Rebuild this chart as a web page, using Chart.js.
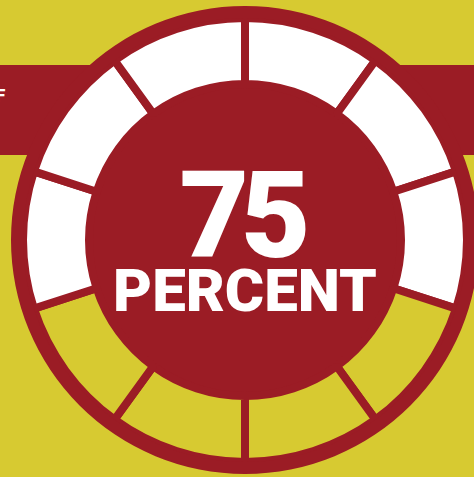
<!DOCTYPE html>
<html>
<head>
<meta charset="utf-8">
<script src="https://cdn.jsdelivr.net/npm/chart.js@4"></script>
<style>
    html, body { margin: 0; padding: 0; }
    body {
        width: 474px; height: 477px; overflow: hidden; position: relative;
        background: #d7ca31;
        font-family: "Roboto", "Liberation Sans", sans-serif;
    }
    .band { position: absolute; left: 0; top: 65px; width: 474px; height: 90px; background: #9b1c25; }
    .band-text { position: absolute; left: -17px; top: 87px; color: #fff; font-size: 18px; font-weight: 700; line-height: 1; }
    #gauge { position: absolute; left: 0; top: 0; }
    .big { position: absolute; left: 0; width: 490px; text-align: center; color: #fff; font-weight: 900; line-height: 1; }
    #num { top: 156px; left: -4px; font-size: 120px; letter-spacing: -8px; }
    #label { top: 261px; font-size: 60px; }
</style>
</head>
<body>
<div class="band"></div>
<div class="band-text">OF</div>
<canvas id="gauge" width="474" height="477"></canvas>
<div class="big" id="num">75</div>
<div class="big" id="label">PERCENT</div>
<script>
const red = "#9b1c25";
const white = "#ffffff";
const yellow = "#d7ca31";

// ten equal slices, clockwise from the top
const segment_values = [1, 1, 1, 1, 1, 1, 1, 1, 1, 1];
const segment_filled = [true, true, true, false, false, false, false, true, true, true];

const ctx = document.getElementById('gauge').getContext('2d');
const gauge = new Chart(ctx, {
    type: 'pie',
    data: {
        labels: segment_values.map((v, i) => "segment " + (i + 1)),
        datasets: [
            {   // outer rim
                data: [1],
                backgroundColor: [red],
                borderWidth: 0,
                weight: 12
            },
            {
                data: segment_values,
                backgroundColor: segment_filled.map((f) => f ? white : yellow),
                borderColor: red,
                borderWidth: 8,
                weight: 66
            },
            {   // inner disc
                data: [1],
                backgroundColor: [red],
                borderWidth: 0,
                weight: 156
            }
        ]
    },
    options: {
        responsive: false,
        animation: false,
        events: [],
        radius: 234,
        cutout: 0,
        layout: { padding: { left: 16, top: 3 } },
        plugins: {
            legend: { display: false },
            tooltip: { enabled: false }
        }
    }
});
</script>
</body>
</html>
